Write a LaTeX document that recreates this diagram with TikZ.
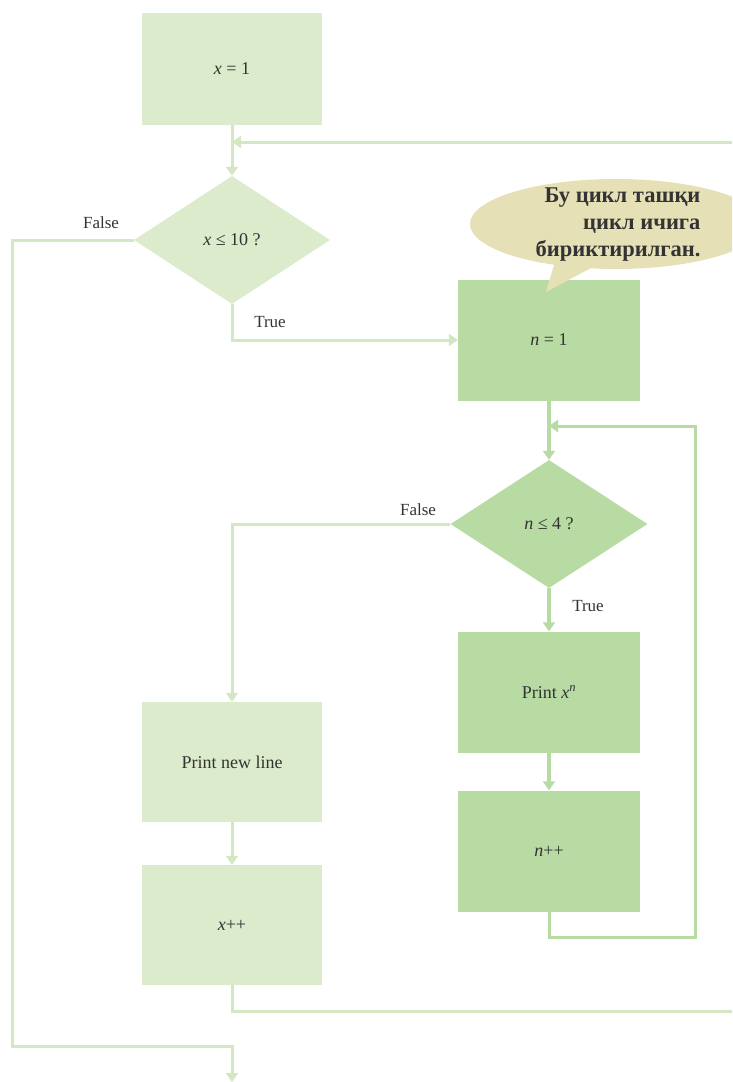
\documentclass[tikz,border=0pt]{standalone}
\usepackage{fontspec}
\setmainfont{Liberation Serif}
\usepackage{tikz}
\usetikzlibrary{positioning,shapes.geometric,shapes.callouts,arrows.meta}
\definecolor{lgreen}{HTML}{DCEBCB}
\definecolor{mgreen}{HTML}{B8DBA4}
\definecolor{lline}{HTML}{D3E7C2}
\definecolor{cream}{HTML}{E6E0B6}
\definecolor{ink}{HTML}{333333}
\tikzset{
  lbox/.style={rectangle, fill=lgreen, minimum width=180, minimum height=120, text=ink},
  mbox/.style={rectangle, fill=mgreen, minimum width=182, minimum height=121, text=ink},
  ldec/.style={diamond, fill=lgreen, minimum width=196, minimum height=128, inner sep=0, text=ink},
  mdec/.style={diamond, fill=mgreen, minimum width=197, minimum height=128, inner sep=0, text=ink},
  lflow/.style={draw=lline, line width=3pt},
  mflow/.style={draw=mgreen, line width=4pt},
  tip/.style={-{Triangle[length=9pt,width=12pt]}},
  lab/.style={text=ink, font=\fontsize{17}{20}\selectfont}
}
\begin{document}
\begin{tikzpicture}[x=1pt, y=-1pt, font=\fontsize{18}{21}\selectfont]
    \clip (0,0) rectangle (732,1082);
    \useasboundingbox (0,0) rectangle (732,1082);
    % outer loop
    \node (xone) [lbox, minimum height=112] at (232,69) {\textit{x} = 1};
    \node (dx) [ldec] at (232,240) {\textit{x} ≤ 10 ?};
    \node (newl) [lbox] at (232,762) {Print new line};
    \node (xinc) [lbox] at (232,925) {\textit{x}++};
    % inner loop
    \node (none) [mbox] at (549,340) {\textit{n} = 1};
    \node (dn) [mdec] at (549,524) {\textit{n} ≤ 4 ?};
    \node (pxn) [mbox] at (549,692) {Print \textit{x}\textsuperscript{\textit{n}}};
    \node (ninc) [mbox] at (549,851) {\textit{n}++};
    % callout
    \node (note) [ellipse callout, fill=cream, minimum width=292, minimum height=90,
          callout absolute pointer={(546,292)}] at (616,224) {};
    \node (notetxt) [anchor=east, align=right, text=ink, font=\fontsize{22.5}{27}\selectfont\bfseries]
          at (704,225) {Бу цикл ташқи\\цикл ичига\\бириктирилган.};
    \coordinate (jx) at (232,142);
    \coordinate (rx) at (732,142);
    \coordinate (jn) at (549,426);
    \coordinate (out) at (232,1082);
    \coordinate (rend) at (732,1011);
    \draw[lflow, tip] (xone) -- (dx);
    \draw[lflow, tip] (rx) -- (jx);
    \draw[lflow, tip] (dx.south) |- (none.west);
    \draw[lflow, tip] (dx.west) -- (12,240) |- (232,1046) -- (out);
    \draw[lflow, tip] (dn.west) -| (newl.north);
    \draw[lflow, tip] (newl) -- (xinc);
    \draw[lflow] (xinc.south) |- (rend);
    \draw[mflow, tip] (none) -- (dn);
    \draw[mflow, tip] (dn) -- (pxn);
    \draw[mflow, tip] (pxn) -- (ninc);
    \draw[lflow, draw=mgreen, tip] (ninc.south) -- (549,937) -| (695,426) -- (jn);
    \node (fx) [lab] at (101,223) {False};
    \node (tx) [lab] at (270,322) {True};
    \node (fn) [lab] at (418,510) {False};
    \node (tn) [lab] at (588,606) {True};
\end{tikzpicture}
\end{document}
